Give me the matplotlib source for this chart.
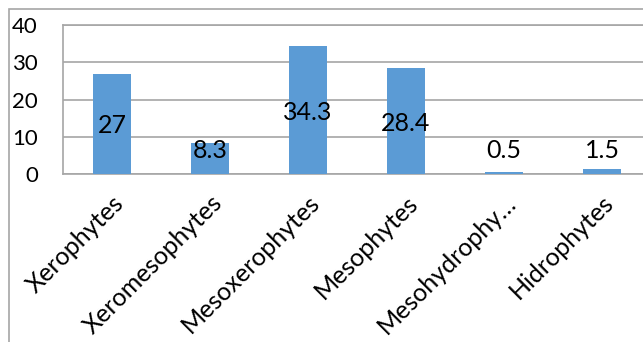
"""Bar chart: share of ecological groups (Excel-style replica)."""
import matplotlib
matplotlib.use("Agg")
import matplotlib.pyplot as plt
from matplotlib.patches import Rectangle

plt.rcParams["font.family"] = ["Lato", "DejaVu Sans"]

CATEGORIES = ["Xerophytes", "Xeromesophytes", "Mesoxerophytes", "Mesophytes",
              "Mesohydrophy…", "Hidrophytes"]
VALUES = [27, 8.3, 34.3, 28.4, 0.5, 1.5]
LABELS = ["27", "8.3", "34.3", "28.4", "0.5", "1.5"]
Y_TICKS = [0, 10, 20, 30, 40]

BAR_COLOR = "#5B9BD5"
GRID_COLOR = "#A6A6A6"

W, H = 643, 342
fig = plt.figure(figsize=(W / 100, H / 100), dpi=100)

# outer chart border (cropped screenshot: only top and left visible)
fig.patches.append(Rectangle((9 / W, -0.1), 1.2, 1 - 9 / H + 0.1, transform=fig.transFigure,
                             fill=False, edgecolor=GRID_COLOR, linewidth=1.2))

# plot area runs past the right edge of the image
ax = fig.add_axes([63 / W, (H - 174.3) / H, 588 / W, (174.3 - 25) / H])
x = list(range(len(CATEGORIES)))
ax.bar(x, VALUES, width=0.38, color=BAR_COLOR, zorder=3)
ax.set_xlim(-0.5, len(CATEGORIES) - 0.5)
ax.set_ylim(0, 40)
ax.set_yticks(Y_TICKS)
ax.set_yticklabels([str(t) for t in Y_TICKS], fontsize=16)
ax.tick_params(axis="y", length=0, pad=18)
ax.yaxis.grid(True, color=GRID_COLOR, linewidth=1.2, zorder=0)
for side in ("top", "left", "bottom"):
    ax.spines[side].set_color(GRID_COLOR)
    ax.spines[side].set_linewidth(1.2)
ax.spines["right"].set_visible(False)

ax.set_xticks(x)
ax.set_xticklabels(CATEGORIES, rotation=45, ha="right", rotation_mode="anchor", fontsize=18)
ax.tick_params(axis="x", length=0, pad=12)

# data labels centred in the bar, kept clear of the axis for small bars
for xi, v, lab in zip(x, VALUES, LABELS):
    ax.text(xi, max(v / 2, 7.0), lab, ha="center", va="center_baseline", fontsize=18, zorder=4)

fig.savefig("out.png", dpi=100)
